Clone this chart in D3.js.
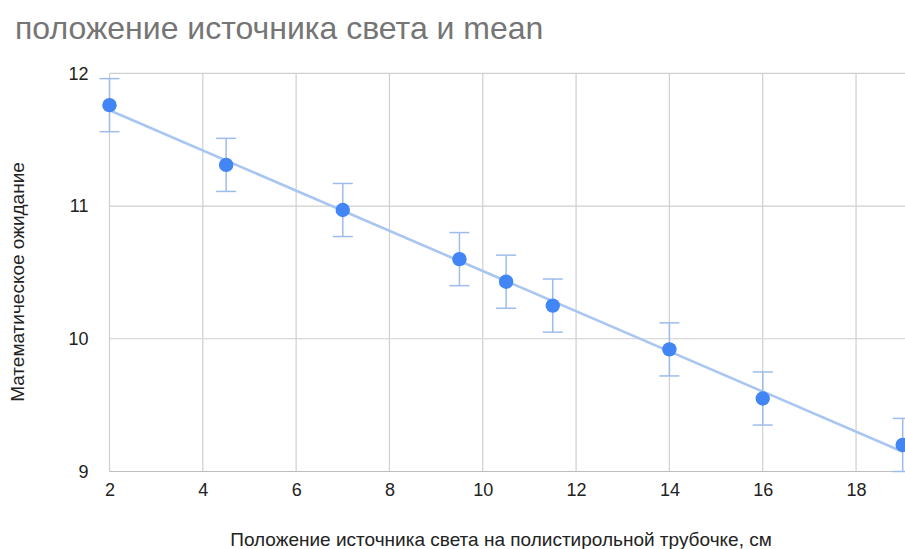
<!DOCTYPE html>
<html>
<head>
<meta charset="utf-8">
<script src="https://cdn.jsdelivr.net/npm/d3@7"></script>
<style>
  html, body { margin: 0; padding: 0; background: #fff; overflow: hidden; }
  svg { display: block; font-family: "Liberation Sans", Arial, sans-serif; }
</style>
</head>
<body>
<svg id="chart" width="905" height="549"></svg>
<script>
// Light-source position along the polystyrene tube (cm) and mean value
const positions = [2, 4.5, 7, 9.5, 10.5, 11.5, 14, 16, 19];
const means = [11.76, 11.31, 10.97, 10.60, 10.43, 10.25, 9.92, 9.55, 9.20];
const errorHalf = 0.2;                       // constant error bar, ±
const xTicks = [2, 4, 6, 8, 10, 12, 14, 16, 18];
const yTicks = [9, 10, 11, 12];

const titleText = "положение источника света и mean";
const xTitle = "Положение источника света на полистирольной трубочке, см";
const yTitle = "Математическое ожидание";

const svg = d3.select("#chart");

const x = d3.scaleLinear().domain([2, 19]).range([109.5, 902.7]);
const y = d3.scaleLinear().domain([9, 12]).range([471.5, 73.3]);

// grid
const grid = svg.append("g");
grid.selectAll("line.v").data(xTicks).join("line")
  .attr("x1", d => x(d)).attr("x2", d => x(d))
  .attr("y1", y(12)).attr("y2", y(9))
  .attr("stroke", "#cfcfcf").attr("stroke-width", 1.2);
grid.selectAll("line.h").data(yTicks).join("line")
  .attr("x1", x(2)).attr("x2", 905)
  .attr("y1", d => y(d)).attr("y2", d => y(d))
  .attr("stroke", d => d === 9 ? "#bdbdbd" : "#cfcfcf").attr("stroke-width", 1.2);

// tick labels via d3 axes
const xAxis = svg.append("g").attr("transform", `translate(0,${y(9)})`)
  .call(d3.axisBottom(x).tickValues(xTicks).tickFormat(d3.format("d")).tickSize(0).tickPadding(12));
xAxis.select(".domain").remove();
xAxis.selectAll("text").attr("font-size", 18).attr("fill", "#222")
  .attr("font-family", "Liberation Sans, Arial, sans-serif");

const yAxis = svg.append("g").attr("transform", `translate(${x(2)},0)`)
  .call(d3.axisLeft(y).tickValues(yTicks).tickFormat(d3.format("d")).tickSize(0).tickPadding(21));
yAxis.select(".domain").remove();
yAxis.selectAll("text").attr("font-size", 18).attr("fill", "#222")
  .attr("font-family", "Liberation Sans, Arial, sans-serif");

// linear trendline (least squares)
const mx = d3.mean(positions), my = d3.mean(means);
let sxy = 0, sxx = 0;
positions.forEach((p, i) => { sxy += (p - mx) * (means[i] - my); sxx += (p - mx) ** 2; });
const slope = sxy / sxx, icpt = my - slope * mx;
svg.append("line")
  .attr("x1", x(2)).attr("y1", y(icpt + slope * 2))
  .attr("x2", x(19)).attr("y2", y(icpt + slope * 19))
  .attr("stroke", "#a9c6f2").attr("stroke-width", 2.6);

// error bars
const eb = svg.append("g").attr("stroke", "#9dbcec").attr("stroke-width", 1.5);
positions.forEach((p, i) => {
  const cx = x(p), top = y(means[i] + errorHalf), bot = y(means[i] - errorHalf);
  eb.append("line").attr("x1", cx).attr("x2", cx).attr("y1", top).attr("y2", bot);
  eb.append("line").attr("x1", cx - 10).attr("x2", cx + 10).attr("y1", top).attr("y2", top);
  eb.append("line").attr("x1", cx - 10).attr("x2", cx + 10).attr("y1", bot).attr("y2", bot);
});

// points
svg.append("g").selectAll("circle").data(positions).join("circle")
  .attr("cx", d => x(d)).attr("cy", (d, i) => y(means[i]))
  .attr("r", 7.2).attr("fill", "#4285f4");

// titles
svg.append("text").attr("x", 15).attr("y", 39).text(titleText)
  .attr("font-size", 32).attr("fill", "#757575");
svg.append("text").attr("x", 501).attr("y", 546).attr("text-anchor", "middle")
  .text(xTitle).attr("font-size", 19).attr("fill", "#222");
svg.append("text").attr("transform", "translate(24,282) rotate(-90)")
  .attr("text-anchor", "middle").text(yTitle)
  .attr("font-size", 19).attr("fill", "#222");
</script>
</body>
</html>
